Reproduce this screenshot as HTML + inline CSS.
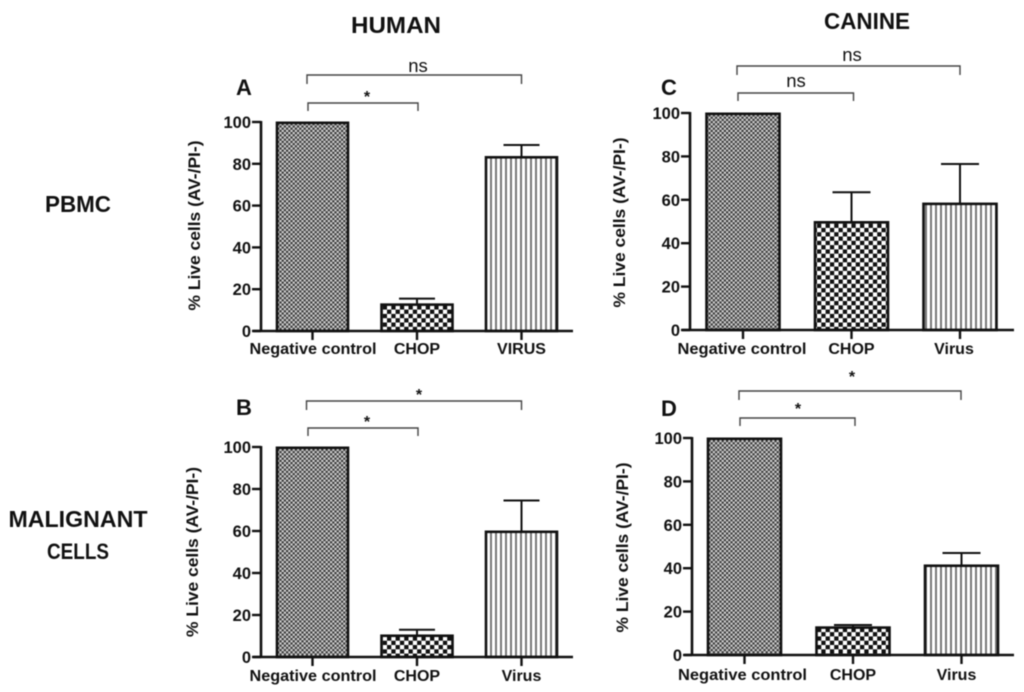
<!DOCTYPE html>
<html lang="en">
<head>
<meta charset="utf-8">
<title>Live cells by treatment: human and canine</title>
<style>
  html, body { margin: 0; padding: 0; background: #fff; }
  #figure { display: block; width: 1024px; height: 692px; filter: blur(0.55px); }
  text { font-family: "Liberation Sans", sans-serif; fill: #111; }
</style>
</head>
<body>
<svg id="figure" xmlns="http://www.w3.org/2000/svg" width="1024" height="692" viewBox="0 0 1024 692">
  <defs>
    <pattern id="pattern-dense" patternUnits="userSpaceOnUse" width="4.4" height="4.4">
      <rect width="4.4" height="4.4" fill="#d8d8d8"/>
      <rect width="2.2" height="2.2" fill="#333"/>
      <rect x="2.2" y="2.2" width="2.2" height="2.2" fill="#333"/>
    </pattern>
    <pattern id="pattern-coarse" patternUnits="userSpaceOnUse" width="8.6" height="8.6">
      <rect width="8.6" height="8.6" fill="#fff"/>
      <rect width="4.3" height="4.3" fill="#111"/>
      <rect x="4.3" y="4.3" width="4.3" height="4.3" fill="#111"/>
    </pattern>
    <pattern id="pattern-stripes" patternUnits="userSpaceOnUse" width="5" height="5">
      <rect width="5" height="5" fill="#fff"/>
      <rect width="2" height="5" fill="#777"/>
    </pattern>
  </defs>
  <text x="396" y="33" text-anchor="middle" font-size="23" font-weight="700" textLength="90" lengthAdjust="spacingAndGlyphs">HUMAN</text>
  <text x="867" y="29" text-anchor="middle" font-size="23" font-weight="700" textLength="86" lengthAdjust="spacingAndGlyphs">CANINE</text>
  <text x="78" y="212" text-anchor="middle" font-size="23" font-weight="700" textLength="66" lengthAdjust="spacingAndGlyphs">PBMC</text>
  <text x="78" y="527" text-anchor="middle" font-size="23" font-weight="700" textLength="139" lengthAdjust="spacingAndGlyphs">MALIGNANT</text>
  <text x="78" y="559" text-anchor="middle" font-size="22" font-weight="700" textLength="62" lengthAdjust="spacingAndGlyphs">CELLS</text>
  <g id="panels"></g>
</svg>
<script>
const tickLabels = [0, 20, 40, 60, 80, 100];
const categoriesA = ['Negative control', 'CHOP', 'VIRUS'];
const categoriesB = ['Negative control', 'CHOP', 'Virus'];
const categoriesC = ['Negative control', 'CHOP', 'Virus'];
const categoriesD = ['Negative control', 'CHOP', 'Virus'];
const valuesA = [100, 13, 83.5];
const valuesB = [100, 10.5, 60];
const valuesC = [100, 50, 58.5];
const valuesD = [100, 13, 41.5];
const errorTopsA = [null, 15.5, 89];
const errorTopsB = [null, 13, 74.5];
const errorTopsC = [null, 63.5, 76.5];
const errorTopsD = [null, 13.8, 47];
const nearSignificanceA = '*';
const farSignificanceA = 'ns';
const nearSignificanceB = '*';
const farSignificanceB = '*';
const nearSignificanceC = 'ns';
const farSignificanceC = 'ns';
const nearSignificanceD = '*';
const farSignificanceD = '*';

const SVG_NS = 'http://www.w3.org/2000/svg';
const patternFills = ['url(#pattern-dense)', 'url(#pattern-coarse)', 'url(#pattern-stripes)'];
const panelsRoot = document.getElementById('panels');

function makeEl(parent, tag, attrs, content) {
  const el = document.createElementNS(SVG_NS, tag);
  Object.keys(attrs).forEach(function (k) { el.setAttribute(k, attrs[k]); });
  if (content !== undefined) el.textContent = content;
  parent.appendChild(el);
  return el;
}

function drawBracket(g, name, x1, x2, y, drop, label, labelX, labelY) {
  const b = makeEl(g, 'g', {});
  
  
  makeEl(b, 'path', {
    d: 'M' + x1 + ' ' + (y + drop) + 'V' + y + 'H' + x2 + 'V' + (y + drop),
    fill: 'none', stroke: '#444', 'stroke-width': 1.4
  });
  const isStar = label === '*';
  const t = makeEl(b, 'text', {
    x: labelX, y: labelY, 'text-anchor': 'middle',
    'font-size': isStar ? 16 : 18.5, 'font-weight': isStar ? 700 : 400, 'fill': '#333'
  }, label);
  
  
}

function drawPanel(p) {
  const g = makeEl(panelsRoot, 'g', {});
  
  

  const yScale = function (v) { return p.y0 + (p.y100 - p.y0) * v / 100; };
  const xCenter = function (i) { return p.firstCenter + i * p.step; };

  const letter = makeEl(g, 'text', {
    x: p.letterX, y: p.letterY, 'text-anchor': 'middle', 'font-size': 22, 'font-weight': 700
  }, p.id);
  
  

  const yTitle = makeEl(g, 'text', {
    transform: 'translate(' + p.yTitleX + ' ' + ((p.y0 + p.y100) / 2 + p.yTitleShift) + ') rotate(-90)',
    'text-anchor': 'middle', 'font-size': 16.5, 'font-weight': 700,
    textLength: 170, lengthAdjust: 'spacingAndGlyphs', fill: '#222'
  }, '% Live cells (AV-/PI-)');
  
  

  p.values.forEach(function (v, i) {
    const cx = xCenter(i);
    const top = yScale(v) + 0.8;
    if (p.errorTops[i] !== null) {
      const et = yScale(p.errorTops[i]);
      const err = makeEl(g, 'path', {
        d: 'M' + cx + ' ' + top + 'V' + et + 'M' + (cx - p.capHalf) + ' ' + et + 'H' + (cx + p.capHalf),
        fill: 'none', stroke: '#111', 'stroke-width': 2
      });
      
      
    }
    const bar = makeEl(g, 'rect', {
      x: cx - p.barHalf, y: top, width: p.barHalf * 2, height: p.y0 - top,
      fill: patternFills[i], stroke: '#111', 'stroke-width': 2.6
    });
    
    

    const tick = makeEl(g, 'line', {
      x1: cx, x2: cx, y1: p.y0, y2: p.y0 + 9, stroke: '#111', 'stroke-width': 2.4
    });
    
    

    const labelShift = i === 0 ? p.firstLabelShift : (i === 2 ? p.thirdLabelShift : 0);
    const lab = makeEl(g, 'text', {
      x: cx + labelShift, y: p.y0 + p.labelDy, 'text-anchor': 'middle',
      'font-size': 16, 'font-weight': 700, fill: '#222'
    }, p.categories[i]);
    if (i === 0) {
      lab.setAttribute('textLength', p.firstLabelWidth);
      lab.setAttribute('lengthAdjust', 'spacingAndGlyphs');
    }
    
    
  });

  const axes = makeEl(g, 'path', {
    d: 'M' + p.axisX + ' ' + p.y0 + 'V' + (p.y100 - 1) + 'M' + (p.axisX - 8) + ' ' + p.y0 + 'H' + p.axisEnd,
    fill: 'none', stroke: '#111', 'stroke-width': 2.6
  });
  
  

  tickLabels.forEach(function (v) {
    const y = yScale(v);
    const tick = makeEl(g, 'line', {
      x1: p.axisX - 9, x2: p.axisX, y1: y, y2: y, stroke: '#111', 'stroke-width': 2.4
    });
    
    
    const lab = makeEl(g, 'text', {
      x: p.axisX - 10, y: y + 6, 'text-anchor': 'end', 'font-size': 16.5, 'font-weight': 700, fill: '#222'
    }, String(v));
    
    
  });

  const b = p.brackets;
  drawBracket(g, 'far-significance-bracket', xCenter(0) + b.farLeft, xCenter(2) + b.farRight, b.farY, 9,
    p.farLabel, b.farLabelX, b.farLabelY);
  drawBracket(g, 'near-significance-bracket', xCenter(0) + b.nearLeft, xCenter(1) + b.nearRight, b.nearY, 8,
    p.nearLabel, b.nearLabelX, b.nearLabelY);
}

drawPanel({
  id: 'A', categories: categoriesA, values: valuesA, errorTops: errorTopsA,
  nearLabel: nearSignificanceA, farLabel: farSignificanceA,
  y0: 331, y100: 122, axisX: 261, axisEnd: 573, firstCenter: 312.5, step: 104.5,
  barHalf: 35.5, capHalf: 18, letterX: 244, letterY: 95, yTitleX: 200, yTitleShift: -1,
  labelDy: 23, firstLabelShift: 0.5, thirdLabelShift: 0, firstLabelWidth: 127,
  brackets: { farLeft: -5.5, farRight: 0, farY: 75, farLabelX: 418, farLabelY: 72,
    nearLeft: -4.5, nearRight: 1, nearY: 103, nearLabelX: 367, nearLabelY: 102 }
});
drawPanel({
  id: 'B', categories: categoriesB, values: valuesB, errorTops: errorTopsB,
  nearLabel: nearSignificanceB, farLabel: farSignificanceB,
  y0: 657, y100: 447, axisX: 261, axisEnd: 573, firstCenter: 312.5, step: 104.5,
  barHalf: 35.5, capHalf: 18, letterX: 244, letterY: 415, yTitleX: 198, yTitleShift: 0,
  labelDy: 24, firstLabelShift: 0.5, thirdLabelShift: 0, firstLabelWidth: 127,
  brackets: { farLeft: -6, farRight: 0, farY: 401, farLabelX: 419, farLabelY: 400,
    nearLeft: -4.5, nearRight: 1, nearY: 428, nearLabelX: 367, nearLabelY: 427 }
});
drawPanel({
  id: 'C', categories: categoriesC, values: valuesC, errorTops: errorTopsC,
  nearLabel: nearSignificanceC, farLabel: farSignificanceC,
  y0: 330, y100: 113, axisX: 690, axisEnd: 1014, firstCenter: 743, step: 108.5,
  barHalf: 36.5, capHalf: 19, letterX: 669, letterY: 95, yTitleX: 625, yTitleShift: 1,
  labelDy: 24, firstLabelShift: -1, thirdLabelShift: -6, firstLabelWidth: 129,
  brackets: { farLeft: -6, farRight: 0, farY: 66, farLabelX: 852, farLabelY: 61,
    nearLeft: -5, nearRight: 2, nearY: 93, nearLabelX: 796, nearLabelY: 87 }
});
drawPanel({
  id: 'D', categories: categoriesD, values: valuesD, errorTops: errorTopsD,
  nearLabel: nearSignificanceD, farLabel: farSignificanceD,
  y0: 655, y100: 438, axisX: 692, axisEnd: 1014, firstCenter: 744.5, step: 108.5,
  barHalf: 36.5, capHalf: 19, letterX: 669, letterY: 416, yTitleX: 628, yTitleShift: 1,
  labelDy: 25, firstLabelShift: -2, thirdLabelShift: -5, firstLabelWidth: 129,
  brackets: { farLeft: -5.5, farRight: -0.5, farY: 391, farLabelX: 852, farLabelY: 382,
    nearLeft: -4.5, nearRight: 2, nearY: 418, nearLabelX: 798, nearLabelY: 414 }
});
</script>
</body>
</html>
